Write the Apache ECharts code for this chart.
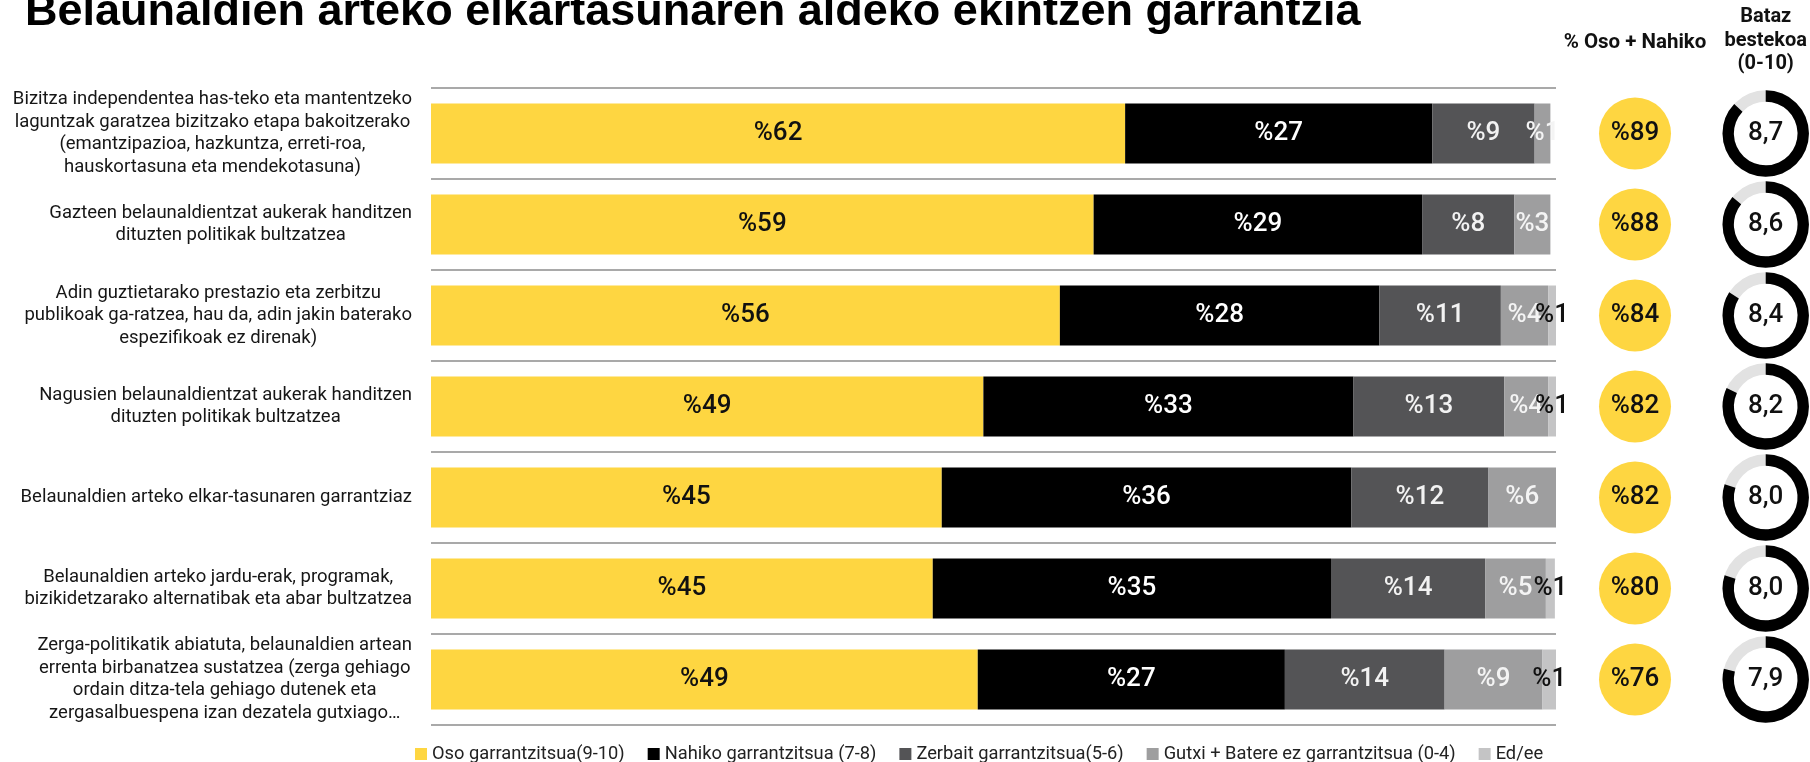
<!DOCTYPE html>
<html>
<head>
<meta charset="utf-8">
<script src="https://cdn.jsdelivr.net/npm/echarts@6/dist/echarts.min.js"></script>
<style>
html,body{margin:0;padding:0;background:#fff;}
#chart{width:1810px;height:762px;}
</style>
</head>
<body>
<div id="chart"></div>
<script>
const titleText = 'Belaunaldien arteko elkartasunaren aldeko ekintzen garrantzia';
const categories = [
  'Bizitza independentea has-teko eta mantentzeko\nlaguntzak garatzea bizitzako etapa bakoitzerako\n(emantzipazioa, hazkuntza, erreti-roa,\nhauskortasuna eta mendekotasuna)',
  'Gazteen belaunaldientzat aukerak handitzen\ndituzten politikak bultzatzea',
  'Adin guztietarako prestazio eta zerbitzu\npublikoak ga-ratzea, hau da, adin jakin baterako\nespezifikoak ez direnak)',
  'Nagusien belaunaldientzat aukerak handitzen\ndituzten politikak bultzatzea',
  'Belaunaldien arteko elkar-tasunaren garrantziaz',
  'Belaunaldien arteko jardu-erak, programak,\nbizikidetzarako alternatibak eta abar bultzatzea',
  'Zerga-politikatik abiatuta, belaunaldien artean\nerrenta birbanatzea sustatzea (zerga gehiago\nordain ditza-tela gehiago dutenek eta\nzergasalbuespena izan dezatela gutxiago…'
];
const seriesNames = ['Oso garrantzitsua(9-10)', 'Nahiko garrantzitsua (7-8)', 'Zerbait garrantzitsua(5-6)', 'Gutxi + Batere ez garrantzitsua (0-4)', 'Ed/ee'];
const osoValues     = [61.7, 58.9, 55.9, 49.1, 45.4, 44.6, 48.6];
const nahikoValues  = [27.3, 29.2, 28.4, 32.9, 36.4, 35.4, 27.3];
const zerbaitValues = [9.1, 8.2, 10.8, 13.4, 12.2, 13.7, 14.2];
const gutxiValues   = [1.4, 3.2, 4.2, 3.9, 6.0, 5.4, 8.7];
const edeeValues    = [0, 0, 0.7, 0.7, 0, 0.8, 1.2];
const osoNahikoValues = [89, 88, 84, 82, 82, 80, 76];
const averageValues = [8.7, 8.6, 8.4, 8.2, 8.0, 8.0, 7.9];
const osoNahikoHeader = '% Oso + Nahiko';
const averageHeader = 'Bataz\nbestekoa\n(0-10)';

const colors = ['#FED641', '#000000', '#545456', '#9E9E9F', '#C4C4C5'];
const labelColors = ['#111111', '#ffffff', '#f2f2f2', '#f4f4f4', '#111111'];
const stackValues = [osoValues, nahikoValues, zerbaitValues, gutxiValues, edeeValues];

const FONT = 'Roboto';
const chart = echarts.init(document.getElementById('chart'), null, {renderer: 'canvas'});

const barSeries = seriesNames.map((name, si) => ({
  name: name,
  type: 'bar',
  stack: 'total',
  xAxisIndex: 0,
  yAxisIndex: 0,
  barWidth: 60,
  itemStyle: {color: colors[si]},
  label: {
    show: true,
    position: 'inside',
    fontFamily: FONT,
    fontWeight: 500,
    fontSize: 26,
    color: labelColors[si],
    formatter: p => (p.value > 0 ? '%' + Math.round(p.value) : '')
  },
  emphasis: {disabled: true},
  data: stackValues[si]
}));

const option = {
  animation: false,
  backgroundColor: '#ffffff',
  title: [{
    text: titleText,
    left: 20,
    top: -15,
    textStyle: {fontFamily: 'Liberation Sans', fontWeight: 'bold', fontSize: 45, lineHeight: 45, color: '#000'}
  }],
  legend: {
    data: seriesNames,
    left: 410,
    top: 740,
    icon: 'rect',
    itemWidth: 12,
    itemHeight: 12,
    itemGap: 23,
    textStyle: {fontFamily: FONT, fontSize: 18.3, color: '#222'}
  },
  grid: [
    {left: 431, width: 1125, top: 88, height: 637},
    {left: 1590, width: 90, top: 88, height: 637},
    {left: 1722, width: 88, top: 88, height: 637}
  ],
  xAxis: [
    {gridIndex: 0, type: 'value', min: 0, max: 100, show: false},
    {gridIndex: 1, type: 'category', data: [osoNahikoHeader], position: 'top',
      axisLine: {show: false}, axisTick: {show: false}, splitLine: {show: false},
      axisLabel: {fontFamily: FONT, fontWeight: 'bold', fontSize: 20.5, lineHeight: 23, color: '#111', margin: 34}},
    {gridIndex: 2, type: 'category', data: [averageHeader], position: 'top',
      axisLine: {show: false}, axisTick: {show: false}, splitLine: {show: false},
      axisLabel: {fontFamily: FONT, fontWeight: 'bold', fontSize: 20, lineHeight: 23.5, color: '#111', margin: 12}}
  ],
  yAxis: [
    {gridIndex: 0, type: 'category', data: categories, inverse: true,
      axisLine: {show: false}, axisTick: {show: false},
      splitLine: {show: true, lineStyle: {color: '#8d8d8d', width: 1.6}},
      axisLabel: {
        margin: 19,
        formatter: v => v.split('\n').map(l => '{c|' + l + '}').join('\n'),
        rich: {c: {align: 'center', fontFamily: FONT, fontSize: 18.5, lineHeight: 22.5, color: '#161616'}}
      }},
    {gridIndex: 1, type: 'category', data: categories, inverse: true, show: false},
    {gridIndex: 2, type: 'category', data: categories, inverse: true, show: false}
  ],
  series: barSeries.concat([
    {
      name: osoNahikoHeader,
      type: 'scatter',
      xAxisIndex: 1,
      yAxisIndex: 1,
      symbol: 'circle',
      symbolSize: 72,
      itemStyle: {color: '#FED641', opacity: 1},
      label: {show: true, position: 'inside', fontFamily: FONT, fontWeight: 500, fontSize: 26, color: '#111',
        formatter: p => '%' + p.value[2]},
      emphasis: {disabled: true},
      data: osoNahikoValues.map((v, i) => [0, i, v])
    },
    {
      name: averageHeader,
      type: 'custom',
      xAxisIndex: 2,
      yAxisIndex: 2,
      renderItem: function (params, api) {
        const idx = api.value(1);
        const val = api.value(2);
        const c = api.coord([api.value(0), idx]);
        const band = api.size([0, 1])[1];
        const r = band * 0.475;
        const r0 = band * 0.35;
        return {
          type: 'group',
          children: [
            {type: 'sector', shape: {cx: c[0], cy: c[1], r: r, r0: r0, startAngle: 0, endAngle: Math.PI * 2},
              style: {fill: '#E2E2E2'}},
            {type: 'sector', shape: {cx: c[0], cy: c[1], r: r, r0: r0, startAngle: -Math.PI / 2,
              endAngle: -Math.PI / 2 + Math.PI * 2 * val / 10, clockwise: true},
              style: {fill: '#000000'}},
            {type: 'text', x: c[0], y: c[1],
              style: {text: val.toFixed(1).replace('.', ','), fontFamily: FONT, fontWeight: 500, fontSize: 26, fill: '#111',
                align: 'center', verticalAlign: 'middle'}}
          ]
        };
      },
      data: averageValues.map((v, i) => [0, i, v])
    }
  ])
};
chart.setOption(option);
</script>
</body>
</html>
